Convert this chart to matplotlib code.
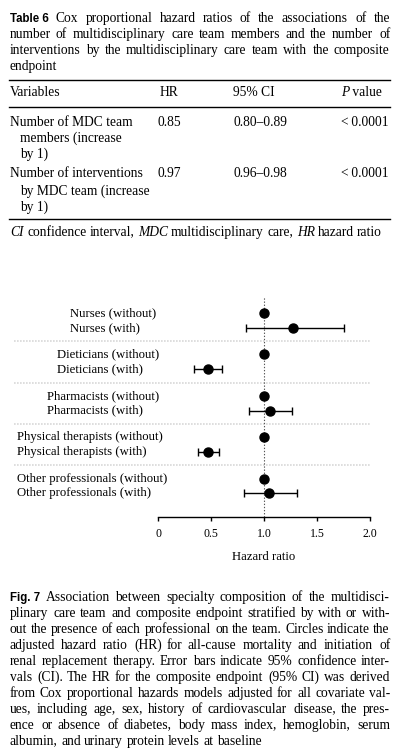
import math
import matplotlib
matplotlib.use('Agg')
import matplotlib.pyplot as plt
from matplotlib.transforms import blended_transform_factory

# forest plot data (hazard ratios)
groups = ['Nurses', 'Dieticians', 'Pharmacists', 'Physical therapists', 'Other professionals']
hr_without = [1.0, 1.0, 1.0, 1.0, 1.0]
hr_with = [1.27, 0.47, 1.06, 0.47, 1.05]
ci_low = [0.83, 0.34, 0.86, 0.38, 0.81]
ci_high = [1.75, 0.60, 1.26, 0.58, 1.31]
xticks = [0, 0.5, 1.0, 1.5, 2.0]
xtick_labels = ['0', '0.5', '1.0', '1.5', '2.0']

# table 6
table_cols = ['Variables', 'HR', '95% CI', 'P value']
table_vars = [['Number of MDC team', 'members (increase', 'by 1)'],
              ['Number of interventions', 'by MDC team (increase', 'by 1)']]
table_hr = ['0.85', '0.97']
table_ci = ['0.80\u20130.89', '0.96\u20130.98']
table_p = ['<\u20090.0001', '<\u20090.0001']

table_caption = ['Cox proportional hazard ratios of the associations of the',
                 'number of multidisciplinary care team members and the number of',
                 'interventions by the multidisciplinary care team with the composite',
                 'endpoint']
table_note = '_CI confidence interval, _MDC multidisciplinary care, _HR hazard ratio'
fig_caption = ['Association between specialty composition of the multidisci-',
               'plinary care team and composite endpoint stratified by with or with-',
               'out the presence of each professional on the team. Circles indicate the',
               'adjusted hazard ratio (HR) for all-cause mortality and initiation of',
               'renal replacement therapy. Error bars indicate 95% confidence inter-',
               'vals (CI). The HR for the composite endpoint (95% CI) was derived',
               'from Cox proportional hazards models adjusted for all covariate val-',
               'ues, including age, sex, history of cardiovascular disease, the pres-',
               'ence or absence of diabetes, body mass index, hemoglobin, serum',
               'albumin, and urinary protein levels at baseline']

W, H = 399, 754
SERIF = ['Liberation Serif', 'DejaVu Serif']
SANS = 'Liberation Sans'
BODY = 9.75
LBL = 9.2

fig = plt.figure(figsize=(W / 100, H / 100), dpi=100)
fig.patch.set_facecolor('white')
renderer = fig.canvas.get_renderer()

# full-figure axes in pixel units for the text blocks
tax = fig.add_axes([0, 0, 1, 1])
tax.set_xlim(0, W)
tax.set_ylim(H, 0)
tax.axis('off')


def style_of(s):
    if s == 'b':
        return dict(family=SANS, weight='bold', size=8.3)
    if s == 'i':
        return dict(family=SERIF, style='italic', size=BODY)
    return dict(family=SERIF, size=BODY)


def tokens_of(line, label=None):
    toks = [(label, 'b')] if label else []
    for w in line.split(' '):
        if w.startswith('_'):
            toks.append((w[1:], 'i'))
        else:
            toks.append((w, 'r'))
    return toks


def snap_shift(t):
    # agg rounds each string's bitmap separately; undo the 1px baseline wobble
    _, h, d = renderer.get_text_width_height_descent(t.get_text(), t.get_fontproperties(), ismath=False)
    return round(d) - math.floor(h) + math.floor(h - d)


def word(x, y, s, style):
    t = tax.text(x, y, s, va='baseline', ha='left', **style_of(style))
    t.set_y(y - snap_shift(t))
    return t


def place_line(tokens, y, x0=10, x1=None):
    texts = [word(x0, y, w, s) for w, s in tokens]
    widths = [t.get_window_extent(renderer).width for t in texts]
    space = BODY * 100 / 72 * 0.25
    if x1 is not None and len(texts) > 1:
        space = (x1 - x0 - sum(widths)) / (len(texts) - 1)
    x = x0
    for t, w in zip(texts, widths):
        t.set_x(round(x))
        x += w + space


# table caption
for i, line in enumerate(table_caption):
    last = i == len(table_caption) - 1
    place_line(tokens_of(line, 'Table 6' if i == 0 else None), 22 + 16 * i,
               x1=None if last else 390)

# table body
for yy in (80, 107, 219):
    tax.plot([9, 390], [yy, yy], color='black', lw=1.0)
col_x = [10, 160, 233, 341]
for x, c in zip(col_x, table_cols):
    if c == 'P value':
        t = word(x, 96, 'P', 'i')
        w = t.get_window_extent(renderer).width
        word(x + w, 96, ' value', 'r')
    else:
        word(x, 96, c, 'r')
row_base = [126, 177]
for r in range(len(table_vars)):
    y0 = row_base[r]
    for k, part in enumerate(table_vars[r]):
        word(10 if k == 0 else 20, y0 + [0, 16, 32][k] + (2 if r == 1 and k else 0), part, 'r')
    word(col_x[1] - 2, y0, table_hr[r], 'r')
    word(col_x[2], y0, table_ci[r], 'r')
    word(col_x[3], y0, table_p[r], 'r')
place_line(tokens_of(table_note), 236)

# figure caption
for i, line in enumerate(fig_caption):
    last = i == len(fig_caption) - 1
    place_line(tokens_of(line, 'Fig. 7' if i == 0 else None), 601 + 16 * i,
               x1=None if last else 390)

# forest plot
ax = fig.add_axes([158 / W, 1 - 517 / H, 212 / W, (517 - 297) / H])
n = len(groups)
y_without = [g - 0.18 for g in range(n)]
y_with = [g + 0.18 for g in range(n)]
xerr = [[h - lo for h, lo in zip(hr_with, ci_low)],
        [hi - h for h, hi in zip(hr_with, ci_high)]]

ax.axvline(1.0, color='#555555', ls=(0, (1.2, 1.6)), lw=0.8, zorder=1)
for g in range(n - 1):
    ax.axhline(g + 0.5, xmin=-0.68, xmax=1.007, color='#d8d8d8', ls=(0, (1, 0.8)),
               lw=1.2, clip_on=False, zorder=0)
ax.plot(hr_without, y_without, 'o', color='black', ms=6.5, zorder=3)
ax.errorbar(hr_with, y_with, xerr=xerr, fmt='o', color='black', ms=6.5,
            elinewidth=1.0, capsize=3, capthick=1.0, zorder=3)

label_x = [70, 57, 47, 17, 17]
lab_tr = blended_transform_factory(tax.transData, ax.transData)
for g, name in enumerate(groups):
    ax.text(label_x[g], y_without[g], name + ' (without)', transform=lab_tr,
            va='center', ha='left', family=SERIF, size=LBL)
    ax.text(label_x[g], y_with[g], name + ' (with)', transform=lab_tr,
            va='center', ha='left', family=SERIF, size=LBL)

ax.set_xlim(0, 2)
ax.set_ylim(4.75, -0.568)
ax.set_yticks([])
ax.set_xticks(xticks)
ax.set_xticklabels(xtick_labels, family=SERIF, size=8.6)
ax.tick_params(axis='x', direction='out', length=3, width=1, pad=5)
for s in ('top', 'left', 'right'):
    ax.spines[s].set_visible(False)
ax.spines['bottom'].set_linewidth(1.0)
ax.patch.set_alpha(0)
ax.set_xlabel('Hazard ratio', family=SERIF, size=LBL, labelpad=8)

fig.savefig('out.png', dpi=100)
